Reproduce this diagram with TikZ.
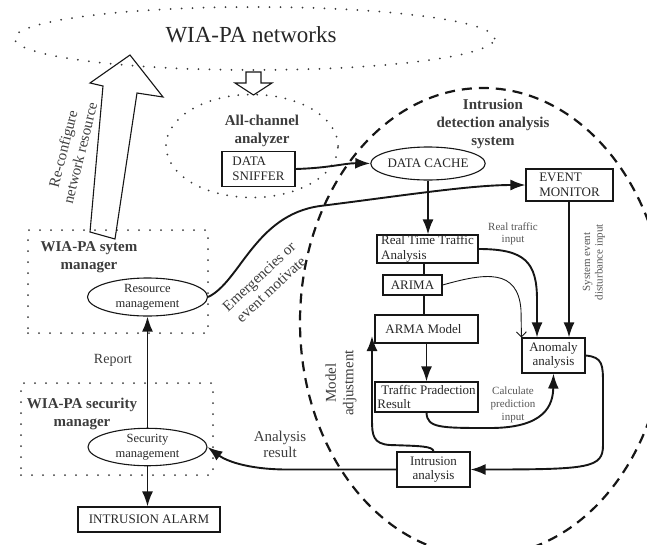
\documentclass[tikz,border=0pt]{standalone}
\usepackage{fontspec}
\setmainfont{Liberation Serif}
\usetikzlibrary{arrows.meta,shapes.geometric,calc}
\definecolor{ink}{HTML}{161616}
\definecolor{txt}{HTML}{262626}
\definecolor{mid}{HTML}{3C3C3C}
\definecolor{soft}{HTML}{555555}
\begin{document}
\begin{tikzpicture}[x=1pt,y=-1pt,
  box/.style={draw=ink, line width=1.1pt, rectangle, inner sep=0pt, align=left, text=txt, font=\fontsize{13}{14.5}\selectfont},
  ell/.style={draw=ink, line width=1.1pt, ellipse, inner sep=0pt, align=center, text=txt, font=\fontsize{12.5}{15.5}\selectfont},
  conn/.style={draw=ink, line width=1.9pt, -{Latex[length=15pt,width=11pt]}},
  thinconn/.style={draw=ink, line width=0.9pt, -{Straight Barb[length=5pt,width=10pt]}},
  plain/.style={draw=ink, line width=2.4pt},
  dotline/.style={draw=ink!85, line width=2pt, line cap=round, dash pattern=on 0pt off 11pt},
  bigdash/.style={draw=ink, line width=2.2pt, dash pattern=on 10pt off 7pt},
  hollow/.style={draw=ink, line width=1.1pt, line join=miter},
  title/.style={font=\bfseries\fontsize{15}{18}\selectfont, text=mid, align=center},
  lbl/.style={font=\fontsize{15}{17.5}\selectfont, text=mid, align=center},
  small/.style={font=\fontsize{11}{12.5}\selectfont, text=soft, align=center}
]
\useasboundingbox (0,0) rectangle (647,544);

% containers
\draw[dotline] (254.5,38.5) ellipse [x radius=240pt, y radius=31.5pt];
\draw[dotline, dash pattern=on 0pt off 9.5pt] (252,146) ellipse [x radius=86pt, y radius=51.5pt];
\draw[bigdash] (483,322) ellipse [x radius=183pt, y radius=234pt];
\node[dotline, rectangle, minimum width=180pt, minimum height=103pt] (sysmgr) at (118,281.5) {};
\node[dotline, rectangle, minimum width=192pt, minimum height=92pt] (secmgr) at (117,429) {};

% hollow arrows
\draw[hollow] (103,86) -- (90,232) -- (115,239) -- (137,93) -- (163,97) -- (130,55) -- (90,83) -- cycle;
\draw[hollow] (246,72) -- (261,72) -- (261,83) -- (272,83) -- (253.5,95) -- (235,83) -- (246,83) -- cycle;

% titles
\node[font=\fontsize{23}{25}\selectfont, text=txt] (nettitle) at (251,35) {WIA-PA networks};
\node[title] (alltitle) at (262,131) {All-channel\\analyzer};
\node[title] (idstitle) at (493,123.5) {Intrusion\\detection analysis\\system};
\node[title] (systitle) at (89,257.5) {WIA-PA sytem\\manager};
\node[title] (sectitle) at (82,413.5) {WIA-PA security\\manager};

% boxes
\node[box, minimum width=73pt, minimum height=35pt] (sniffer) at (258.5,169) {DATA\\SNIFFER};
\node[ell, minimum width=110pt, minimum height=33pt, font=\fontsize{13}{14}\selectfont] (cache) at (428,163.5) {DATA CACHE};
\node[box, minimum width=87pt, minimum height=32pt] (event) at (569.5,185) {EVENT\\MONITOR};
\node[box, minimum width=101pt, minimum height=28pt] (rtta) at (427.5,249) {Real Time Traffic\\Analysis};
\node[box, minimum width=59pt, minimum height=20pt] (arima) at (412.5,285) {ARIMA};
\node[box, minimum width=103pt, minimum height=28pt] (arma) at (426.5,329) {ARMA Model\hspace*{6pt}};
\node[box, align=center, minimum width=63pt, minimum height=35pt] (anomaly) at (553.5,355.5) {Anomaly\\analysis};
\node[box, minimum width=103pt, minimum height=30pt] (tpr) at (426.5,397) {\hspace*{4pt}Traffic Pradection\\Result};
\node[box, align=center, minimum width=73pt, minimum height=35pt] (intr) at (433.5,469.5) {Intrusion\\analysis};
\node[box, minimum width=142pt, minimum height=25pt] (alarm) at (149,519.5) {INTRUSION ALARM};
\node[ell, minimum width=120pt, minimum height=38pt] (res) at (147.5,297) {Resource\\management};
\node[ell, minimum width=119pt, minimum height=37pt] (sec) at (147.5,447) {Security\\management};

% labels
\node[lbl, rotate=76] (reconf) at (71.5,151) {Re-configure\\network resource};
\node[lbl, rotate=43] (emerg) at (265,283) {Emergencies or\\event motivate};
\node[lbl, rotate=90] (madj) at (341,383) {Model\\adjustment};
\node[lbl, font=\fontsize{15}{16}\selectfont] (anres) at (280,444) {Analysis\\result};
\node[lbl, font=\fontsize{14}{16}\selectfont] (report) at (113,360) {Report};
\node[small] (rti) at (513,234) {Real traffic\\input};
\node[small, rotate=90] (sedi) at (594,262) {System event\\disturbance input};
\node[small, font=\fontsize{11}{13}\selectfont] (cpi) at (513,405) {Calculate\\prediction\\input};

% column helpers
\coordinate (colA) at (424,0);
\coordinate (colB) at (537,0);
\coordinate (colC) at (569,0);
\coordinate (adjtip) at (372,336);

% connectors
\draw[conn] (sniffer.east) .. controls (330,168) and (345,163) .. (cache.west);
\draw[conn] (res.east) .. controls (240,282) and (255,215) .. (320,206) .. controls (400,196) and (470,185) .. (event.west);
\draw[conn] (cache.south) -- (cache.south |- rtta.north);
\draw[plain] (colA |- rtta.south) -- (colA |- arima.north);
\draw[plain] (colA |- arima.south) -- (colA |- arma.north);
\draw[conn] (rtta.east) .. controls (525,249) and (537,262) .. (537,300) -- (colB |- anomaly.north);
\draw[conn] (colC |- event.south) -- (colC |- anomaly.north);
\draw[thinconn] (arima.east) .. controls (485,273) and (518,268) .. (521,310) -- (anomaly.north west);
\draw[conn] (arma.south) -- (tpr.north);
\draw[conn] (tpr.south) .. controls (427,428) and (440,428) .. (490,428) .. controls (545,428) and (553,405) .. (anomaly.south);
\draw[conn] (anomaly.east) .. controls (603,357) and (603,365) .. (603,385) -- (603,445) .. controls (603,468) and (590,469.5) .. (intr.east);
\draw[conn] (intr.north) .. controls (433,446) and (420,446) .. (390,445) .. controls (373,444) and (372,435) .. (372,420) -- (adjtip);
\draw[conn] (intr.west) -- (285,469.5) .. controls (245,469) and (225,460) .. (sec.east);
\draw[conn] (sec.north) -- (res.south);
\draw[conn] (sec.south) -- (sec.south |- alarm.north);
\end{tikzpicture}
\end{document}
